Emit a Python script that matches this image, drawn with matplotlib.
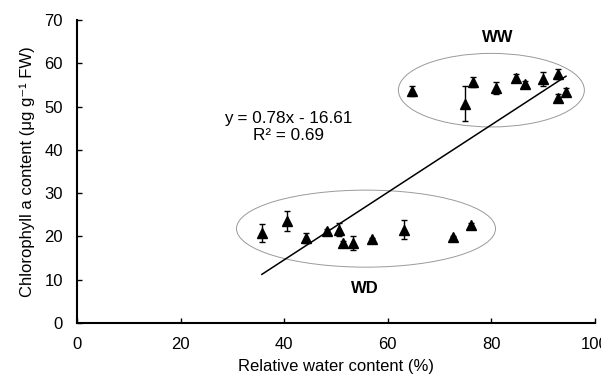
import matplotlib.pyplot as plt
from matplotlib.patches import Ellipse
import numpy as np

plt.rcParams['font.family'] = ['Liberation Sans', 'DejaVu Sans']

# water deficit (WD) group
wd_x = [35.7, 40.5, 44.2, 48.2, 50.6, 51.3, 53.3, 57.0, 63.1, 72.5, 76.1]
wd_y = [20.7, 23.5, 19.6, 21.3, 21.5, 18.5, 18.4, 19.3, 21.5, 19.8, 22.6]
wd_err = [2.1, 2.3, 1.2, 0.5, 1.5, 0.5, 1.6, 0.4, 2.2, 0.4, 0.6]

# well watered (WW) group
ww_x = [64.6, 74.9, 76.5, 80.8, 84.7, 86.5, 89.9, 92.9, 94.4, 92.9]
ww_y = [53.6, 50.7, 55.7, 54.2, 56.7, 55.2, 56.3, 57.5, 53.4, 52.1]
ww_err = [1.2, 4.0, 1.2, 1.4, 0.8, 0.8, 1.6, 1.1, 0.8, 0.8]

slope = 0.78
intercept = -16.61
r2 = 0.69

fig = plt.figure(figsize=(6.01, 3.82), dpi=100)
ax = fig.add_axes([0.128, 0.1545, 0.862, 0.793])

all_x = np.array(wd_x + ww_x)
all_y = np.array(wd_y + ww_y)
all_err = np.array(wd_err + ww_err)

ax.errorbar(all_x, all_y, yerr=all_err, fmt='^', color='black', ms=7.5,
            ecolor='black', elinewidth=1, capsize=2.5, capthick=1)

# trend line over the data range
lx = np.array([all_x.min(), all_x.max()])
ax.plot(lx, slope * lx + intercept, color='black', lw=1.1)

ax.add_patch(Ellipse((80.0, 53.8), 35.9, 17.0, fill=False, ec='#9a9a9a', lw=0.7))
ax.add_patch(Ellipse((55.8, 21.8), 50.0, 17.8, fill=False, ec='#9a9a9a', lw=0.7))

ax.text(81.3, 66.0, 'WW', fontsize=12, fontweight='bold', ha='center', va='center')
ax.text(55.6, 8.0, 'WD', fontsize=12, fontweight='bold', ha='center', va='center')
ax.text(40.8, 45.3, f'y = {slope:.2f}x - {abs(intercept):.2f}\nR² = {r2:.2f}',
        fontsize=12.3, ha='center', va='center', linespacing=1.15)

ax.set_xlim(0, 100)
ax.set_ylim(0, 70)
ax.set_xticks(range(0, 101, 20))
ax.set_yticks(range(0, 71, 10))
for s in ['top', 'right']:
    ax.spines[s].set_visible(False)
for s in ['left', 'bottom']:
    ax.spines[s].set_linewidth(1.5)
ax.tick_params(direction='in', length=3.5, width=1, labelsize=12)
ax.tick_params(axis='x', pad=10)
ax.tick_params(axis='y', pad=10)

ax.set_xlabel('Relative water content (%)', fontsize=12, labelpad=5)
ax.set_ylabel('Chlorophyll a content (μg g⁻¹ FW)', fontsize=12, labelpad=7)

fig.savefig('out.png', dpi=100)
